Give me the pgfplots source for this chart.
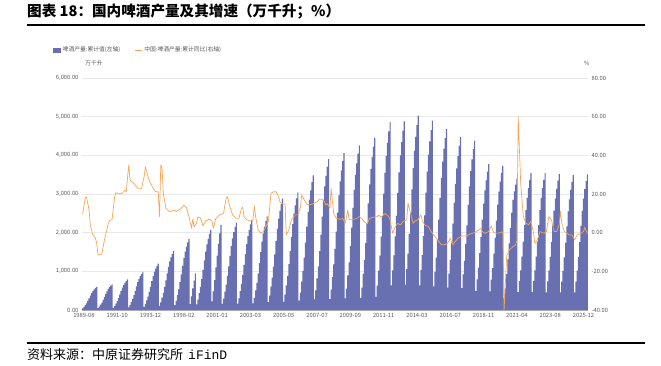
\documentclass[border=0pt]{standalone}
\usepackage{pgfplots}
\pgfplotsset{compat=1.18}
\usepackage{pgfplotstable}
\usepackage{fontspec}
\setmainfont{Noto Sans CJK SC}
\newfontfamily\monof{Liberation Mono}
\definecolor{barblue}{RGB}{104,112,178}
\definecolor{lineor}{RGB}{245,166,85}
\definecolor{ticktxt}{RGB}{89,89,89}

\pgfplotstableread[row sep=\\]{
v\\
42\\ 78\\ 126\\ 174\\ 234\\ 300\\ 372\\ 438\\ 492\\ 534\\ 570\\ 600\\
47\\ 86\\ 140\\ 193\\ 259\\ 333\\ 412\\ 485\\ 545\\ 592\\ 632\\ 665\\
56\\ 103\\ 167\\ 231\\ 310\\ 398\\ 493\\ 580\\ 652\\ 708\\ 755\\ 795\\
69\\ 128\\ 207\\ 286\\ 384\\ 493\\ 611\\ 719\\ 808\\ 877\\ 936\\ 985\\
84\\ 156\\ 252\\ 348\\ 468\\ 600\\ 744\\ 876\\ 984\\ 1068\\ 1140\\ 1200\\
107\\ 199\\ 321\\ 444\\ 597\\ 765\\ 949\\ 1117\\ 1255\\ 1362\\ 1454\\ 1530\\
129\\ 239\\ 386\\ 534\\ 718\\ 920\\ 1141\\ 1343\\ 1509\\ 1638\\ 1748\\ 1840\\
150\\ 350\\ 560\\ 760\\ 950\\
145\\ 269\\ 435\\ 600\\ 807\\ 1035\\ 1283\\ 1511\\ 1697\\ 1842\\ 1967\\ 2070\\
220\\ 484\\ 770\\ 1100\\ 1408\\ 1716\\ 1980\\ 2200\\
158\\ 294\\ 475\\ 655\\ 881\\ 1130\\ 1401\\ 1650\\ 1853\\ 2011\\ 2147\\ 2260\\
163\\ 303\\ 489\\ 676\\ 909\\ 1165\\ 1445\\ 1701\\ 1911\\ 2074\\ 2214\\ 2330\\
169\\ 315\\ 508\\ 702\\ 944\\ 1210\\ 1500\\ 1767\\ 1984\\ 2154\\ 2299\\ 2420\\
202\\ 374\\ 605\\ 835\\ 1123\\ 1440\\ 1786\\ 2102\\ 2362\\ 2563\\ 2736\\ 2880\\
213\\ 395\\ 638\\ 882\\ 1186\\ 1520\\ 1885\\ 2219\\ 2493\\ 2706\\ 2888\\ 3040\\
244\\ 452\\ 731\\ 1009\\ 1357\\ 1740\\ 2158\\ 2540\\ 2854\\ 3097\\ 3306\\ 3480\\
273\\ 507\\ 819\\ 1131\\ 1521\\ 1950\\ 2418\\ 2847\\ 3198\\ 3471\\ 3705\\ 3900\\
284\\ 528\\ 853\\ 1177\\ 1583\\ 2030\\ 2517\\ 2964\\ 3329\\ 3613\\ 3857\\ 4060\\
298\\ 554\\ 895\\ 1235\\ 1661\\ 2130\\ 2641\\ 3110\\ 3493\\ 3791\\ 4047\\ 4260\\
312\\ 579\\ 935\\ 1291\\ 1736\\ 2225\\ 2759\\ 3249\\ 3649\\ 3961\\ 4228\\ 4450\\
340\\ 632\\ 1021\\ 1409\\ 1895\\ 2430\\ 3013\\ 3548\\ 3985\\ 4325\\ 4617\\ 4860\\
634\\ 1025\\ 1415\\ 1903\\ 2440\\ 3026\\ 3562\\ 4002\\ 4343\\ 4636\\ 4880\\
654\\ 1056\\ 1459\\ 1962\\ 2515\\ 3119\\ 3672\\ 4125\\ 4477\\ 4779\\ 5030\\
637\\ 1029\\ 1421\\ 1911\\ 2450\\ 3038\\ 3577\\ 4018\\ 4361\\ 4655\\ 4900\\
608\\ 983\\ 1357\\ 1825\\ 2340\\ 2902\\ 3416\\ 3838\\ 4165\\ 4446\\ 4680\\
581\\ 939\\ 1296\\ 1743\\ 2235\\ 2771\\ 3263\\ 3665\\ 3978\\ 4247\\ 4470\\
569\\ 920\\ 1270\\ 1708\\ 2190\\ 2716\\ 3197\\ 3592\\ 3898\\ 4161\\ 4380\\
490\\ 792\\ 1093\\ 1470\\ 1885\\ 2337\\ 2752\\ 3091\\ 3355\\ 3582\\ 3770\\
485\\ 783\\ 1082\\ 1455\\ 1865\\ 2313\\ 2723\\ 3059\\ 3320\\ 3544\\ 3730\\
300\\ 560\\ 930\\ 1310\\ 1720\\ 2120\\ 2520\\ 2850\\ 3070\\ 3240\\ 3390\\
460\\ 744\\ 1027\\ 1381\\ 1770\\ 2195\\ 2584\\ 2903\\ 3151\\ 3363\\ 3540\\
460\\ 744\\ 1027\\ 1381\\ 1770\\ 2195\\ 2584\\ 2903\\ 3151\\ 3363\\ 3540\\
458\\ 739\\ 1021\\ 1373\\ 1760\\ 2182\\ 2570\\ 2886\\ 3133\\ 3344\\ 3520\\
454\\ 733\\ 1012\\ 1361\\ 1745\\ 2164\\ 2548\\ 2862\\ 3106\\ 3316\\ 3490\\
456\\ 737\\ 1018\\ 1369\\ 1755\\ 2176\\ 2562\\ 2878\\ 3124\\ 3335\\ 3510\\
}\bardata

\begin{document}
\begin{tikzpicture}
\useasboundingbox (0,0) rectangle (661pt,365pt);
\node[anchor=west, inner sep=0pt, font=\fontsize{14.6}{16}\selectfont\bfseries] at (27pt,353pt) {图表 18：国内啤酒产量及其增速（万千升；\%）};
\draw[line width=1.6pt] (27pt,340pt) -- (645pt,340pt);

\begin{axis}[
  at={(82pt,55pt)}, anchor=south west, scale only axis,
  width=506pt, height=232pt,
  xmin=-0.5, xmax=394.5, ymin=0, ymax=6000,
  axis x line*=bottom, axis y line*=left,
  x axis line style={draw=black!30, -}, y axis line style={draw=none},
  ytick={0,1000,...,6000}, ymajorgrids,
  grid style={draw=black!9, line width=0.5pt},
  xtick={1,27,...,391},
  xticklabels={1989-08,1991-10,1993-12,1998-02,2001-01,2003-03,2005-05,2007-07,2009-09,2011-11,2014-03,2016-07,2018-11,2021-04,2023-08,2025-12},
  major tick length=0pt,
  tick label style={font=\fontsize{5.8}{6.5}\selectfont, text=ticktxt},
  /pgf/number format/fixed, /pgf/number format/fixed zerofill,
  /pgf/number format/precision=2, /pgf/number format/1000 sep={,},
  /pgf/number format/assume math mode=true,
]
\addplot[ybar, bar width=0.9, fill=barblue, draw=none] table[x expr=\coordindex, y=v] {\bardata};
\end{axis}

\begin{axis}[
  at={(82pt,55pt)}, anchor=south west, scale only axis,
  width=506pt, height=232pt,
  xmin=-0.5, xmax=394.5, ymin=-40, ymax=80,
  hide x axis, axis y line*=right, y axis line style={draw=none},
  ytick={-40,-20,...,80},
  major tick length=0pt,
  tick label style={font=\fontsize{5.8}{6.5}\selectfont, text=ticktxt},
  /pgf/number format/fixed, /pgf/number format/fixed zerofill,
  /pgf/number format/precision=2,
  /pgf/number format/assume math mode=true,
  legend style={at={(-0.063,1.12)}, anchor=west, draw=none, fill=none,
    legend columns=2, font=\fontsize{5.8}{7}\selectfont, text=ticktxt,
    /tikz/every even column/.append style={column sep=12pt}},
]
\addlegendimage{legend image code/.code={\fill[barblue] (0pt,-1.6pt) rectangle (7pt,1.6pt);}}
\addlegendentry{啤酒产量:累计值(左轴)}
\addplot[lineor, line width=0.7pt, line join=round,
  legend image code/.code={\draw[lineor, line width=0.9pt] (0pt,0pt) -- (7pt,0pt);}]
coordinates {(0,9.5)(2,17.8)(3,18.5)(5,11.7)(6,4)(8,-1.2)(10,-2.9)(11,-5.5)(12,-11.6)(14,-11.2)(15,-11)(17,-3.8)(20,4.8)(21,6.2)(23,6.9)(25,18.6)(26,20.7)(29,20)(31,20.4)(33,22)(34,21)(36,35)(37,27.2)(40,25.5)(43,23)(46,23)(48,29)(49,34.1)(51,29)(53,25.5)(55,23)(57,21.2)(59,21.2)(60,8.3)(61,35)(62,33.3)(63,20.3)(65,12.6)(68,10.9)(72,11.7)(73,10.9)(77,12.6)(79,14.2)(81,13)(83,8.3)(85,2.3)(86,7)(87,3)(89,5)(90,8.3)(92,7.4)(94,3.5)(96,6)(99,7)(101,6)(102,2.3)(104,7.4)(107,9.2)(110,10)(112,17.8)(113,18.6)(115,13.4)(117,9.2)(120,7.4)(122,7.4)(124,12.6)(125,13.2)(126,8.3)(128,6.7)(131,6)(133,6.7)(134,14)(135,8.3)(137,1.4)(139,-0.3)(141,0.6)(143,3.1)(145,6)(147,20.3)(149,21.2)(151,21.2)(153,18.6)(154,16)(156,14.8)(158,14.8)(159,-1.2)(161,1.4)(163,6.7)(166,9.2)(168,9.2)(170,13.1)(171,19.5)(173,16.9)(175,14.8)(177,14.3)(180,15)(183,16)(185,17.5)(188,16.9)(190,14.3)(191,15)(193,12.6)(194,22.9)(195,16)(196,10)(198,7.4)(201,6.9)(203,7.4)(205,4.8)(207,11.7)(208,6.9)(210,6.6)(214,7.4)(216,8.3)(218,7.4)(219,6.2)(222,4.5)(224,7.4)(227,8)(230,8.3)(231,9.2)(233,8)(236,10)(239,8.3)(240,6.6)(242,-0.3)(244,3.1)(246,4.8)(248,4)(250,5.7)(253,6.6)(254,15.2)(256,10)(258,4.8)(259,5.7)(262,6.9)(264,9.2)(265,6.6)(267,4)(270,3.1)(272,0.6)(275,-2)(278,-4.5)(280,-6.2)(283,-6.2)(285,-5.4)(287,-2.9)(289,-6.2)(291,-4.5)(293,-2.9)(296,-1.7)(300,-1.7)(302,-0.8)(306,0)(309,1.4)(311,2.3)(312,0.6)(314,-0.3)(317,0.6)(319,3.5)(321,0)(323,-0.3)(326,0)(328,0.5)(329,-40)(331,-12.2)(333,-9)(336,-7.2)(338,-6.4)(339,-4)(340,60)(342,25)(344,8.3)(346,5)(348,4.1)(350,5.9)(352,-0.3)(353,-5.5)(355,-3.8)(357,0.6)(360,-0.3)(362,0.6)(364,8.3)(366,6.6)(368,0.6)(370,0.6)(372,4)(373,11)(374,5)(376,0.6)(380,-1.2)(382,-1.2)(384,-3.8)(386,-1.2)(389,-0.3)(391,0.6)(392,2.8)(394,-0.5)};
\addlegendentry{中国:啤酒产量:累计同比(右轴)}
\end{axis}

\node[anchor=west, inner sep=0pt, font=\fontsize{5.8}{6.5}\selectfont, text=ticktxt] at (85pt,302pt) {万千升};
\node[anchor=west, inner sep=0pt, font=\fontsize{5.8}{6.5}\selectfont, text=ticktxt] at (584pt,302pt) {\%};
\draw[line width=1.6pt] (27pt,22pt) -- (645pt,22pt);
\node[anchor=west, inner sep=0pt, font=\fontsize{13}{14}\selectfont] at (27pt,10pt) {资料来源：中原证券研究所\hspace{5pt}{\monof iFinD}};
\end{tikzpicture}
\end{document}
